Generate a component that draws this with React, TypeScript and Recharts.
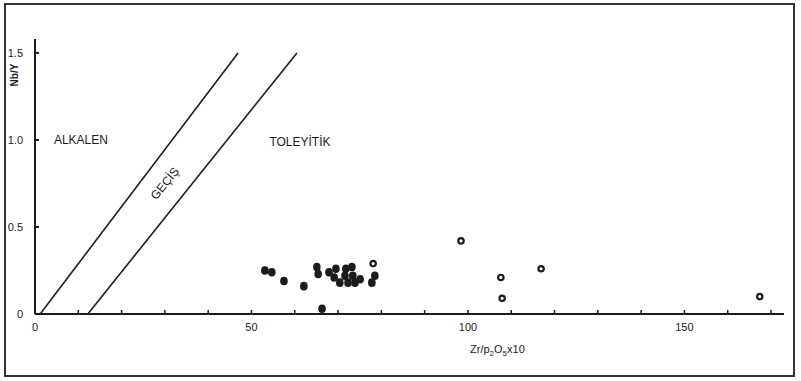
import React from 'react';
import { ScatterChart, Scatter, XAxis, YAxis, ReferenceDot } from 'recharts';

// Filled symbols (black dots)
const FILLED_X = [53.1, 54.7, 57.5, 62.1, 65.1, 65.4, 66.3, 67.9, 69.5, 69.1, 70.4, 71.6, 71.8, 72.3, 73.2, 73.4, 73.9, 75.1, 78.5, 77.8];
const FILLED_Y = [0.25, 0.24, 0.19, 0.16, 0.27, 0.23, 0.03, 0.24, 0.26, 0.21, 0.18, 0.22, 0.26, 0.18, 0.27, 0.22, 0.18, 0.20, 0.22, 0.18];
// Open symbols
const OPEN_X = [78.1, 98.4, 107.6, 107.9, 116.9, 167.4];
const OPEN_Y = [0.29, 0.42, 0.21, 0.09, 0.26, 0.10];
// Boundary lines
const LINE1_X = [1.2, 46.9];
const LINE1_Y = [0, 1.5];
const LINE2_X = [12.2, 60.5];
const LINE2_Y = [0, 1.5];
// Ticks
const X_TICKS = [0, 10, 20, 30, 40, 50, 60, 70, 80, 90, 100, 110, 120, 130, 140, 150, 160, 170];
const X_LABELED = [0, 50, 100, 150];
const Y_TICKS = [0, 0.5, 1.0, 1.5];
const Y_LABELS = ['0', '0.5', '1.0', '1.5'];
// Field labels
const FIELD_NAMES = ['ALKALEN', 'TOLEYİTİK', 'GEÇİŞ'];
const FIELD_X = [10.6, 61.2, 30.0];
const FIELD_Y = [1.0, 0.99, 0.75];
const FIELD_ANGLE = [0, 0, -51];

const FONT = '"Liberation Sans", Arial, sans-serif';
const INK = '#1c1c1c';

const zip = (xs: number[], ys: number[]) => xs.map((x, i) => ({ x, y: ys[i] }));
const filled = zip(FILLED_X, FILLED_Y);
const open = zip(OPEN_X, OPEN_Y);
const line1 = zip(LINE1_X, LINE1_Y);
const line2 = zip(LINE2_X, LINE2_Y);

const XTick = (props: any) => {
  const { x, y, payload } = props;
  const v = payload.value;
  return (
    <g>
      {v !== 0 && <line x1={x} y1={y} x2={x} y2={y - 4} stroke={INK} strokeWidth={1.5} />}
      {X_LABELED.includes(v) && (
        <text x={x} y={y + 17} textAnchor="middle" fontFamily={FONT} fontSize={11} fill={INK}>
          {String(v)}
        </text>
      )}
    </g>
  );
};

const YTick = (props: any) => {
  const { x, y, payload } = props;
  const i = Y_TICKS.indexOf(payload.value);
  return (
    <g>
      {payload.value !== 0 && <line x1={x - 1} y1={y} x2={x + 4} y2={y} stroke={INK} strokeWidth={2} />}
      <text x={x - 12} y={y + 4} textAnchor="end" fontFamily={FONT} fontSize={11} fill={INK}>
        {i >= 0 ? Y_LABELS[i] : ''}
      </text>
    </g>
  );
};

const FilledDot = (props: any) => {
  const { cx, cy } = props;
  return <ellipse cx={cx} cy={cy} rx={3.8} ry={4.3} fill={INK} />;
};

const OpenDot = (props: any) => {
  const { cx, cy } = props;
  return <circle cx={cx} cy={cy} r={2.7} fill="#fff" stroke={INK} strokeWidth={2.2} />;
};

const NoShape = () => <g />;

const fieldLabel = (i: number) => (props: any) => {
  const vb = props.viewBox || {};
  const cx = (vb.x ?? 0) + (vb.width ?? 0) / 2;
  const cy = (vb.y ?? 0) + (vb.height ?? 0) / 2;
  return (
    <text
      x={cx}
      y={cy}
      textAnchor="middle"
      dominantBaseline="central"
      fontFamily={FONT}
      fontSize={12}
      fill={INK}
      transform={FIELD_ANGLE[i] ? `rotate(${FIELD_ANGLE[i]} ${cx} ${cy})` : undefined}
    >
      {FIELD_NAMES[i]}
    </text>
  );
};

export default function App() {
  return (
    <div style={{ position: 'absolute', left: 0, top: 0, width: 801, height: 381, background: '#fff', fontFamily: FONT }}>
      <ScatterChart width={801} height={381} margin={{ top: 39, right: 17, bottom: 37, left: 5 }}>
        <XAxis
          type="number"
          dataKey="x"
          domain={[0, 173]}
          ticks={X_TICKS}
          interval={0}
          tickSize={0}
          tickMargin={0}
          tick={<XTick />}
          axisLine={{ stroke: INK, strokeWidth: 2 }}
          tickLine={false}
          height={30}
          allowDataOverflow
        />
        <YAxis
          type="number"
          dataKey="y"
          domain={[0, 1.58]}
          ticks={Y_TICKS}
          interval={0}
          tickSize={0}
          tickMargin={0}
          tick={<YTick />}
          axisLine={{ stroke: INK, strokeWidth: 2 }}
          tickLine={false}
          width={30}
          allowDataOverflow
        />
        <Scatter data={line1} line={{ stroke: INK, strokeWidth: 1.6 }} shape={<NoShape />} isAnimationActive={false} />
        <Scatter data={line2} line={{ stroke: INK, strokeWidth: 1.6 }} shape={<NoShape />} isAnimationActive={false} />
        <Scatter data={filled} shape={<FilledDot />} isAnimationActive={false} />
        <Scatter data={open} shape={<OpenDot />} isAnimationActive={false} />
        {FIELD_NAMES.map((n, i) => (
          <ReferenceDot key={n} x={FIELD_X[i]} y={FIELD_Y[i]} r={0} fill="none" stroke="none" label={{ content: fieldLabel(i) }} ifOverflow="visible" />
        ))}
      </ScatterChart>
      <div
        style={{
          position: 'absolute',
          left: 470,
          top: 343,
          fontSize: 11,
          color: INK,
          whiteSpace: 'nowrap',
          lineHeight: '12px',
        }}
      >
        Zr/p<sub style={{ fontSize: 8 }}>2</sub>O<sub style={{ fontSize: 8 }}>5</sub>x10
      </div>
      <div
        style={{
          position: 'absolute',
          left: 14,
          top: 75,
          fontSize: 10,
          fontWeight: 'bold',
          color: INK,
          whiteSpace: 'nowrap',
          transform: 'translate(-50%, -50%) rotate(-90deg)',
        }}
      >
        Nb/Y
      </div>
      <div
        style={{
          position: 'absolute',
          left: 4,
          top: 3,
          width: 791,
          height: 374,
          border: '2px solid #333',
          boxSizing: 'border-box',
          pointerEvents: 'none',
        }}
      />
    </div>
  );
}
